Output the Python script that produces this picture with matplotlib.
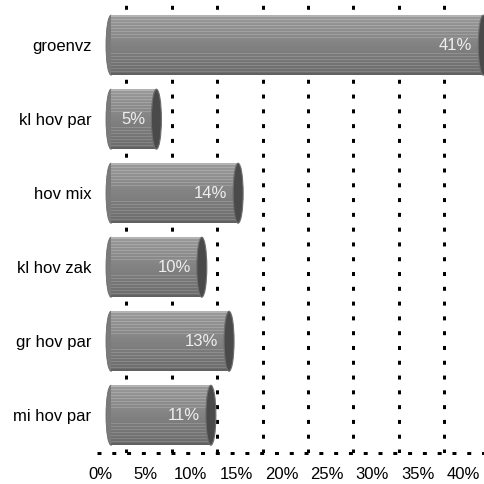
import numpy as np
import matplotlib
matplotlib.use("Agg")
import matplotlib.pyplot as plt
from matplotlib.patches import Ellipse
from matplotlib.transforms import ScaledTranslation

categories = ["groenvz", "kl hov par", "hov mix", "kl hov zak", "gr hov par", "mi hov par"]
shares = [41, 5, 14, 10, 13, 11]
tick_values = [0, 5, 10, 15, 20, 25, 30, 35, 40]
tick_labels = ["0%", "5%", "10%", "15%", "20%", "25%", "30%", "35%", "40%"]

plt.rcParams["font.family"] = ["Liberation Sans", "DejaVu Sans"]

W, H, DPI = 485, 484, 100
fig = plt.figure(figsize=(W / DPI, H / DPI), dpi=DPI)

PX_PER_PCT = 9.08
ZERO_PX = 111
LEFT_PX = 97
BOTTOM_PX = 453

def px_shift(dx):
    return ScaledTranslation(dx / DPI, 0, fig.dpi_scale_trans)

ax = fig.add_axes([LEFT_PX / W, (H - BOTTOM_PX) / H, (W - LEFT_PX) / W, BOTTOM_PX / H])
xmin = (LEFT_PX - ZERO_PX) / PX_PER_PCT
xmax = (W - ZERO_PX) / PX_PER_PCT

n = len(categories)
ypos = np.arange(n)
bar_h = 0.81
ylim = (n - 1 + 0.51, -0.61)

# dotted gridlines on the back wall (shifted left by the 3D depth)
dots = (0, (1.33, 3.6))
ax.vlines(tick_values[1:], 0, 1, transform=ax.get_xaxis_transform() + px_shift(-30),
          colors="black", linewidth=2.16, linestyles=[dots], zorder=1)

# cylinder bodies
bars = ax.barh(ypos, shares, height=bar_h, color="#858585", zorder=3)

# vertical shading profile with fine horizontal stripes
rows = 60
profile = np.linspace(0.60, 0.42, rows)
profile[:2] = 0.70
for r in (4, 7, 10, 13, 16, 19, 22):
    profile[r] += 0.08
for r in (38, 41, 44, 47, 50, 53, 56):
    profile[r] += 0.08
profile[-2:] = 0.38
grad = profile.reshape(-1, 1)

ew = 10 / PX_PER_PCT
for y, v, patch in zip(ypos, shares, bars.patches):
    # rounded left end
    ax.add_patch(Ellipse((0, y), ew, bar_h, facecolor="#7a7a7a", edgecolor="#6a6a6a",
                         linewidth=0.6, zorder=2.9))
    im = ax.imshow(grad, extent=(0, v, y + bar_h / 2, y - bar_h / 2), aspect="auto",
                   cmap="gray", vmin=0, vmax=1, interpolation="nearest", zorder=3.1)
    im.set_clip_path(patch)
    # dark end cap
    ax.add_patch(Ellipse((v, y), ew, bar_h, facecolor="#4a4a4a", edgecolor="#6e6e6e",
                         linewidth=0.8, zorder=3.5, clip_on=False))
    ax.text(v, y, f"{v}%", ha="right", va="center", color="#eeeeee", fontsize=12,
            transform=ax.transData + px_shift(-11), zorder=5)

ax.set_xlim(xmin, xmax)
ax.set_ylim(*ylim)

ax.set_xticks(tick_values)
ax.set_xticklabels(tick_labels)
ax.set_yticks(ypos)
ax.set_yticklabels(categories)
ax.tick_params(axis="x", length=0, pad=10, labelsize=12, colors="black")
ax.tick_params(axis="y", length=0, pad=4, labelsize=12, colors="black")
for lbl in ax.get_xticklabels():
    lbl.set_transform(lbl.get_transform() + px_shift(-11))

for side in ("left", "right", "top"):
    ax.spines[side].set_visible(False)
spine = ax.spines["bottom"]
spine.set_linestyle(dots)
spine.set_linewidth(2.16)
spine.set_color("black")
spine.set_capstyle("butt")
ax.set_facecolor("white")
fig.patch.set_facecolor("white")

fig.savefig("out.png", dpi=DPI, facecolor="white")
